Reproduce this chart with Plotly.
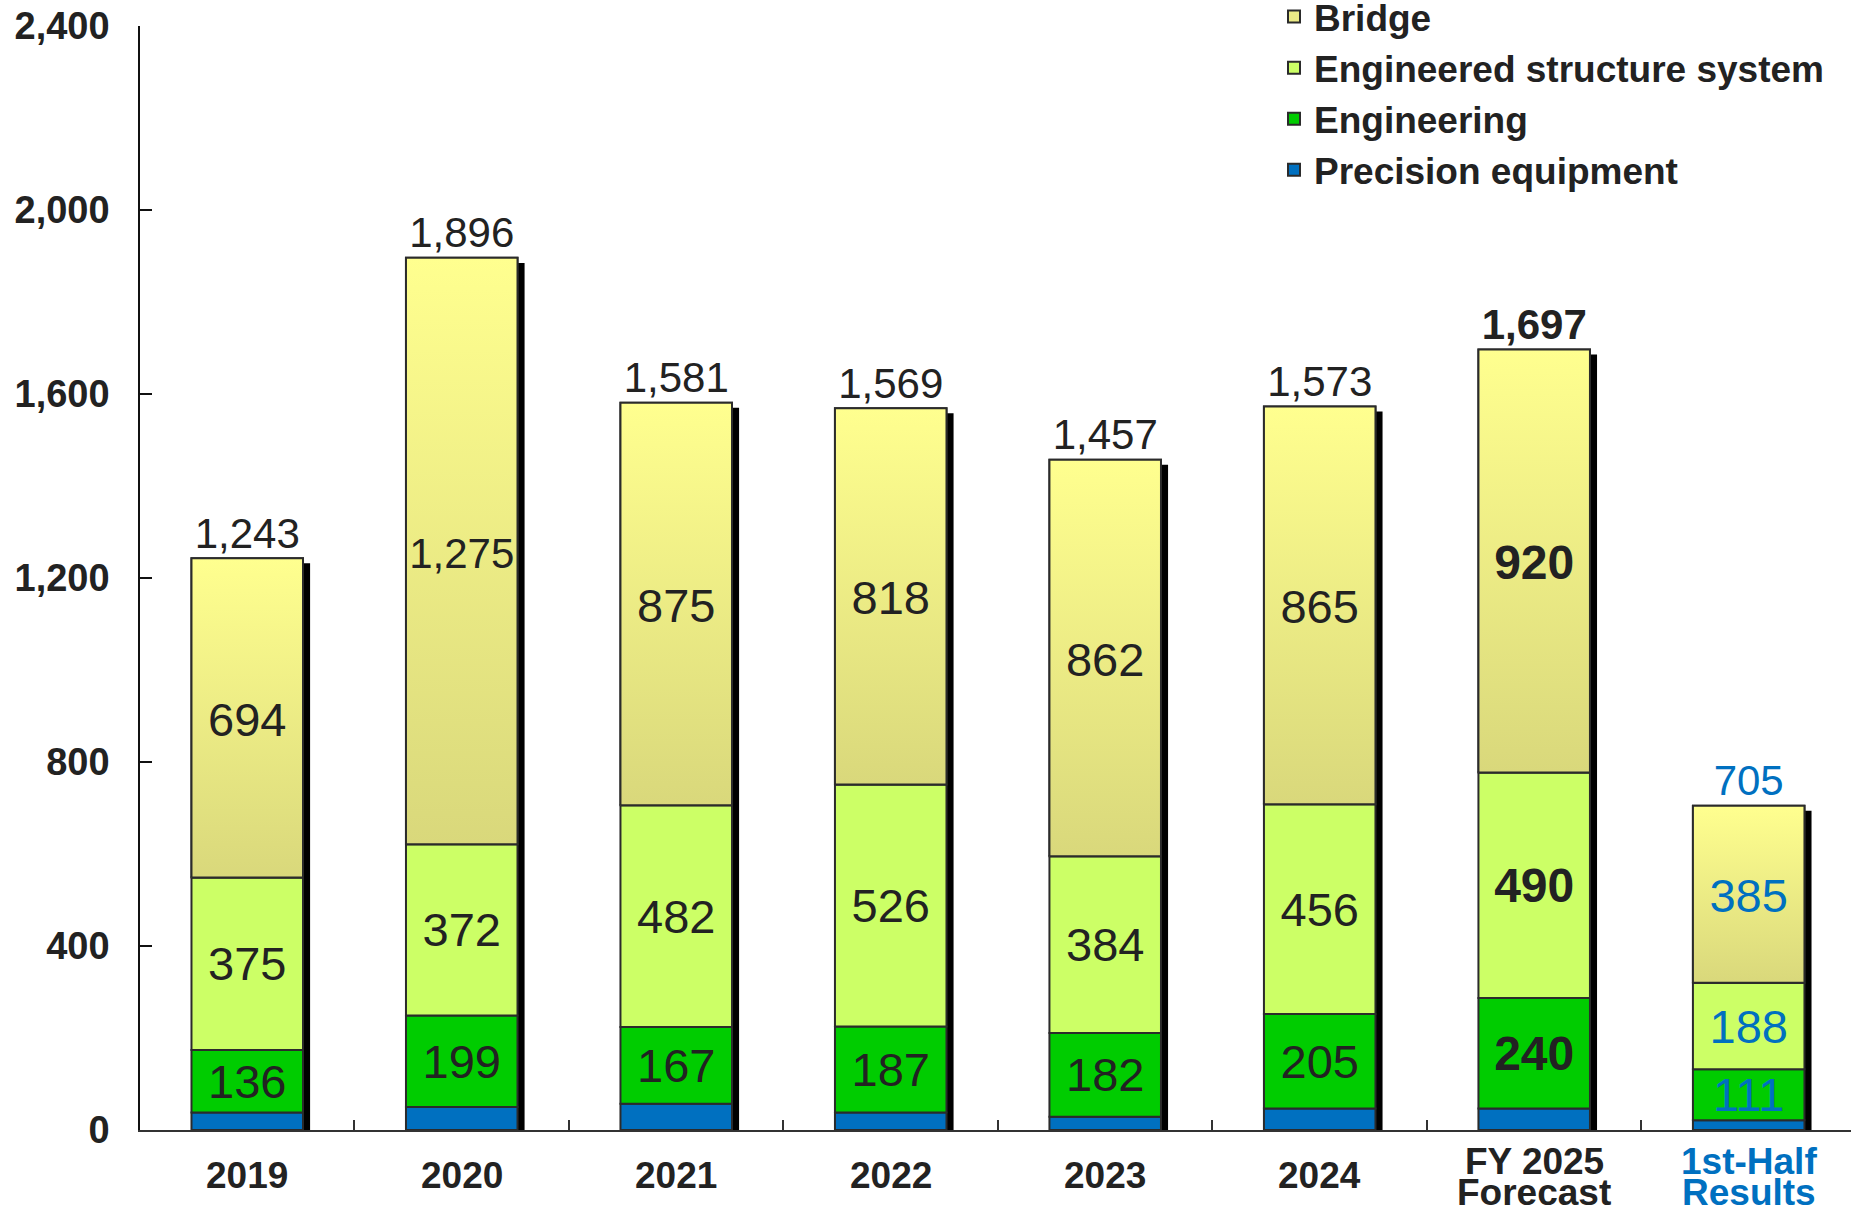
import numpy as np
import plotly.graph_objects as go

# ---------------- data ----------------
categories = ["2019", "2020", "2021", "2022", "2023", "2024", "FY 2025", "1st-Half"]
category_line2 = ["", "", "", "", "", "", "Forecast", "Results"]
precision_equipment = [38, 50, 57, 38, 29, 47, 47, 21]
engineering = [136, 199, 167, 187, 182, 205, 240, 111]
engineered_structure = [375, 372, 482, 526, 384, 456, 490, 188]
bridge = [694, 1275, 875, 818, 862, 865, 920, 385]
totals = [1243, 1896, 1581, 1569, 1457, 1573, 1697, 705]
y_tick_values = [0, 400, 800, 1200, 1600, 2000, 2400]

# ---------------- styles ----------------
FONT = "Liberation Sans, Arial, sans-serif"
DARK = "#222222"
BLUE = "#0070C0"
label_colors = [DARK] * 6 + [DARK, BLUE]
label_bold = [False] * 6 + [True, False]
inner_size = [47, 47, 47, 47, 47, 47, 48, 47]
bridge_size = [47, 42, 47, 47, 47, 47, 48, 47]
C_PREC = "#0070C0"
C_ENG = "#00CC00"
C_ESS = "#CCFF66"
C_BRIDGE = "#ECEB87"
OUTLINE = "#2b2b2b"
BAR_W = 0.52
LABEL_NUDGE = 13  # small downward nudge of bridge labels (axis units)

x = np.arange(len(categories))
prec = np.array(precision_equipment)
eng = np.array(engineering)
ess = np.array(engineered_structure)
brd = np.array(bridge)
tot = np.array(totals)

base_eng = prec
base_ess = prec + eng
base_brd = prec + eng + ess


def fmt(v, bold):
    s = f"{v:,}"
    return f"<b>{s}</b>" if bold else s


fig = go.Figure()

# shadow of each whole bar (offset right / down)
fig.add_trace(go.Bar(
    x=x, y=tot, base=-11, width=BAR_W, offset=-BAR_W / 2 + 0.033,
    marker=dict(color="#000000", line=dict(width=0)),
    showlegend=False, hoverinfo="skip",
))

line = dict(color=OUTLINE, width=2)
fig.add_trace(go.Bar(
    x=x, y=prec, base=0, width=BAR_W, name="Precision equipment",
    marker=dict(color=C_PREC, line=line), legendrank=4, legendgroup="d",
))
fig.add_trace(go.Bar(
    x=x, y=eng, base=base_eng, width=BAR_W, name="Engineering",
    marker=dict(color=C_ENG, line=line), legendrank=3, legendgroup="c",
    text=[fmt(v, b) for v, b in zip(engineering, label_bold)],
    textposition="inside", insidetextanchor="middle", textangle=0,
    constraintext="none",
    insidetextfont=dict(family=FONT, size=inner_size, color=label_colors),
))
fig.add_trace(go.Bar(
    x=x, y=ess, base=base_ess, width=BAR_W, name="Engineered structure system",
    marker=dict(color=C_ESS, line=line), legendrank=2, legendgroup="b",
    text=[fmt(v, b) for v, b in zip(engineered_structure, label_bold)],
    textposition="inside", insidetextanchor="middle", textangle=0,
    constraintext="none",
    insidetextfont=dict(family=FONT, size=inner_size, color=label_colors),
))
fig.add_trace(go.Bar(
    x=x, y=brd, base=base_brd, width=BAR_W, name="Bridge",
    marker=dict(color=C_BRIDGE, line=line), legendrank=1, legendgroup="a",
))

# gradient fill of bridge segments (drawn on overlay axis, above bars)
for i in range(len(categories)):
    x0, x1 = x[i] - BAR_W / 2, x[i] + BAR_W / 2
    y0, y1 = base_brd[i], tot[i]
    fig.add_trace(go.Scatter(
        x=[x0, x1, x1, x0, x0], y=[y0, y0, y1, y1, y0],
        xaxis="x2", yaxis="y", mode="lines", fill="toself",
        fillgradient=dict(type="vertical",
                          colorscale=[[0, "#D9D87B"], [1, "#FFFF8F"]]),
        line=line, showlegend=False, hoverinfo="skip",
    ))

# bridge value labels
fig.add_trace(go.Scatter(
    x=x, y=base_brd + brd / 2 - LABEL_NUDGE, xaxis="x2", yaxis="y", mode="text",
    text=[fmt(v, b) for v, b in zip(bridge, label_bold)],
    textposition="middle center",
    textfont=dict(family=FONT, size=bridge_size, color=label_colors),
    showlegend=False, hoverinfo="skip",
))
# totals
fig.add_trace(go.Scatter(
    x=x, y=tot, xaxis="x2", yaxis="y", mode="text",
    text=[fmt(v, b) for v, b in zip(totals, label_bold)],
    textposition="top center",
    textfont=dict(family=FONT, size=42, color=label_colors),
    showlegend=False, hoverinfo="skip",
))

# category labels (one or two lines under each bar)
XR = [-0.5, 7.477]
annotations = []
for i, (t1, t2, c) in enumerate(zip(categories, category_line2, label_colors)):
    lines = [(t1, -45)] if not t2 else [(t1, -31), (t2, -62)]
    for txt, dy in lines:
        annotations.append(dict(
            x=x[i], y=0, xref="x", yref="paper", yanchor="middle", yshift=dy,
            text=f"<b>{txt}</b>", showarrow=False,
            font=dict(family=FONT, size=37, color=c),
        ))

fig.update_layout(
    width=1851, height=1211,
    margin=dict(l=140, r=0, t=26, b=81, autoexpand=False),
    paper_bgcolor="white", plot_bgcolor="white",
    barmode="overlay",
    font=dict(family=FONT, color=DARK),
    xaxis=dict(
        range=XR, tickvals=x, ticks="", showticklabels=False,
        showline=True, linecolor="#333333", linewidth=2,
        showgrid=False, zeroline=False,
    ),
    xaxis2=dict(
        range=XR, overlaying="x", anchor="y", side="bottom",
        tickvals=x[:-1] + 0.5, ticks="inside", ticklen=10, tickwidth=1.5,
        tickcolor="#333333", showticklabels=False, showline=False,
        showgrid=False, zeroline=False,
    ),
    yaxis=dict(
        range=[0, 2400], tickvals=y_tick_values, tickformat=",",
        ticks="inside", ticklen=12, tickwidth=1.5, tickcolor="#111111",
        showline=True, linecolor="#111111", linewidth=1.5,
        showgrid=False, zeroline=False,
        tickfont=dict(family=FONT, size=38, color=DARK, weight="bold"),
        ticklabelstandoff=21,
    ),
    legend=dict(
        x=(1274 - 140) / 1711, xanchor="left", y=1 + 40 / 1104, yanchor="top",
        traceorder="grouped", tracegroupgap=0,
        font=dict(family=FONT, size=37, color=DARK, weight="bold"),
        bgcolor="rgba(0,0,0,0)",
    ),
    annotations=annotations,
)

fig.write_html(
    "out.html",
    config={"displayModeBar": False},
    post_script="document.body.style.margin='0px';"
                "document.documentElement.style.overflow='hidden';",
)
